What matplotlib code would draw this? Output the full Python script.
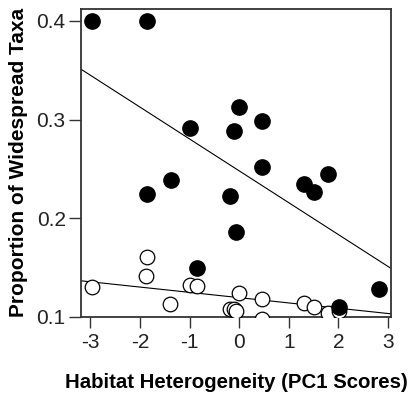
import numpy as np
import matplotlib
matplotlib.use("Agg")
import matplotlib.pyplot as plt

plt.rcParams['font.family'] = ['Liberation Sans', 'DejaVu Sans']

# widespread taxa (filled) vs PC1
pc1_filled = [-2.96, -1.85, -0.01, 0.47, -1.00, -0.10, 0.47, -1.38, -1.86,
              -0.19, 1.30, 1.51, 1.79, -0.07, -0.85, 2.82, 2.02]
prop_filled = [0.400, 0.400, 0.313, 0.298, 0.291, 0.288, 0.252, 0.239, 0.224,
               0.222, 0.235, 0.227, 0.245, 0.186, 0.149, 0.128, 0.110]

# open circles
pc1_open = [-2.96, -1.85, -1.87, -0.99, -0.85, -1.39, -0.01, 0.47, -0.18,
            -0.10, -0.07, 0.47, 1.30, 1.51, 1.79, 2.02]
prop_open = [0.130, 0.161, 0.141, 0.132, 0.131, 0.113, 0.124, 0.118, 0.1075,
             0.1075, 0.106, 0.098, 0.1135, 0.110, 0.104, 0.106]

# fitted lines (intercept, slope)
fit_filled = (0.248, -0.0323)
fit_open = (0.1194, -0.00536)

xticks = [-3, -2, -1, 0, 1, 2, 3]
yticks = [0.1, 0.2, 0.3, 0.4]

fig = plt.figure(figsize=(4.11, 3.94), dpi=100)
ax = fig.add_axes([0.197, 0.196, 0.754, 0.781])

xlim = (-3.19, 3.06)
ylim = (0.1, 0.412)

xs = np.array(xlim)
for b0, b1 in [fit_filled, fit_open]:
    ax.plot(xs, b0 + b1 * xs, color='black', lw=0.8, zorder=2)

ax.plot(pc1_open, prop_open, 'o', ms=10.5, mfc='white', mec='black', mew=0.9, zorder=3)
ax.plot(pc1_filled, prop_filled, 'o', ms=11, mfc='black', mec='black', zorder=4)

ax.set_xlim(xlim)
ax.set_ylim(ylim)
ax.set_xticks(xticks)
ax.set_xticklabels([str(t) for t in xticks])
ax.set_yticks(yticks)
ax.set_yticklabels([f'{t:.1f}' for t in yticks])
ax.tick_params(direction='out', length=8, width=1, labelsize=15, color='#333333', labelcolor='#222222')
ax.tick_params(axis='y', length=9, pad=2)
for s in ax.spines.values():
    s.set_linewidth(1.3)
    s.set_color('#333333')

ax.set_xlabel('Habitat Heterogeneity (PC1 Scores)', fontsize=14.7, fontweight='bold')
ax.set_ylabel('Proportion of Widespread Taxa', fontsize=15, fontweight='bold')
ax.xaxis.set_label_coords(0.5, -0.183)
ax.yaxis.set_label_coords(-0.172, 0.5)

fig.savefig('out.png', dpi=100)
